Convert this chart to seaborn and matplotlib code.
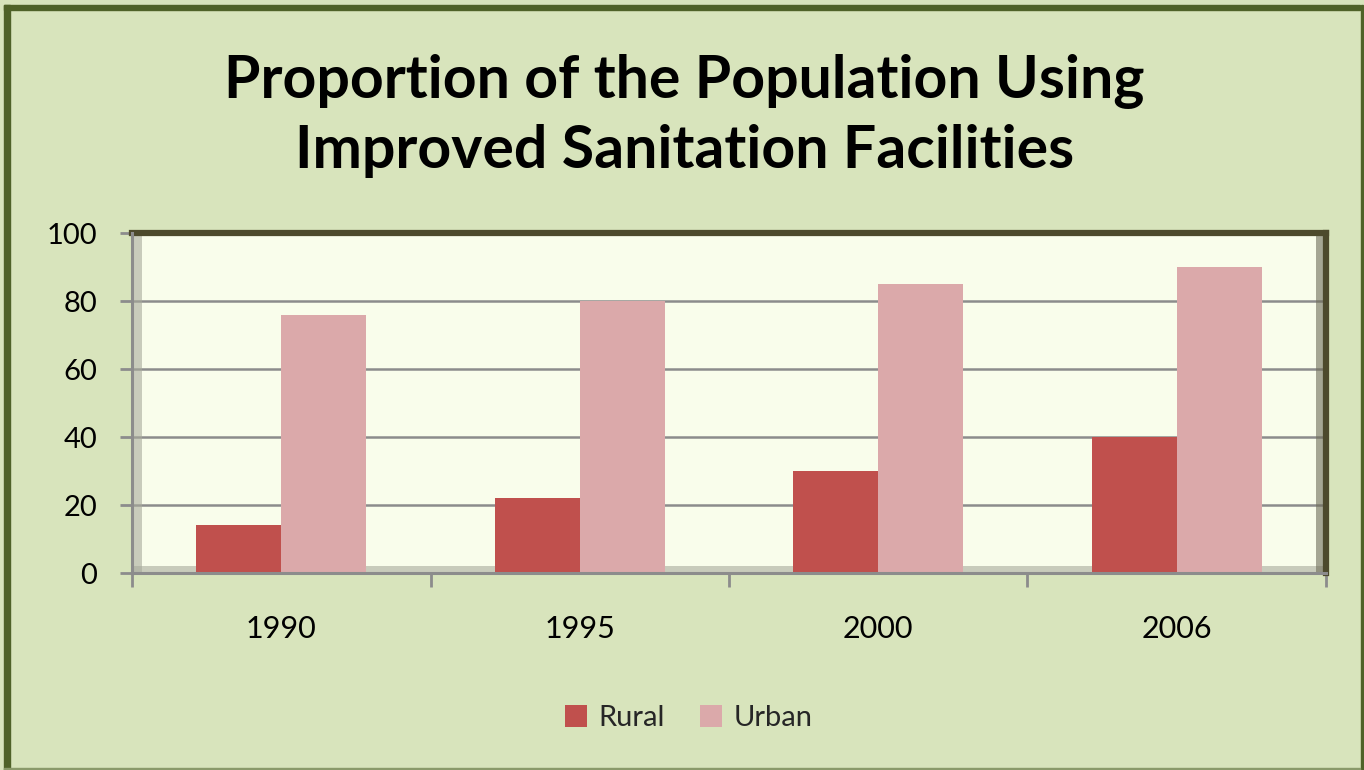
import matplotlib
matplotlib.use('Agg')
import matplotlib.pyplot as plt
from matplotlib.patches import Rectangle
import numpy as np
import pandas as pd
import seaborn as sns

# data
years = ["1990", "1995", "2000", "2006"]
rural = [14, 22, 30, 40]
urban = [76, 80, 85, 90]
series = ["Rural", "Urban"]
y_ticks = [0, 20, 40, 60, 80, 100]

df = pd.DataFrame({
    "year": years * 2,
    "value": rural + urban,
    "area": ["Rural"] * len(years) + ["Urban"] * len(years),
})

sns.set_theme(style="white")
plt.rcParams['font.family'] = ['Lato', 'DejaVu Sans']

bg = "#D8E4BC"
face = "#F9FDEB"
grid_c = "#8C8C8C"
dark = "#4D4A2C"
colors = {"Rural": "#C0504D", "Urban": "#DBA9AA"}

fig = plt.figure(figsize=(13.64, 7.70), dpi=100, facecolor=bg)

# outer frame (thick on top/left, thin on right/bottom)
fig.patches.append(Rectangle((0.003, 0.0), 0.0045, 0.993, transform=fig.transFigure,
                             color="#4F6228", zorder=5))
fig.patches.append(Rectangle((0.003, 0.9865), 0.994, 0.0065, transform=fig.transFigure,
                             color="#4F6228", zorder=5))
fig.patches.append(Rectangle((0.9975, 0.0), 0.0018, 0.993, transform=fig.transFigure,
                             color="#4F6228", zorder=5))
fig.patches.append(Rectangle((0.003, 0.0), 0.994, 0.003, transform=fig.transFigure,
                             color="#8A9A6A", zorder=5))

ax = fig.add_axes([0.0968, 0.2558, 0.8753, 0.4416])
ax.set_facecolor(face)

sns.barplot(data=df, x="year", y="value", hue="area", hue_order=series,
            palette=colors, width=0.57, gap=0, saturation=1, ax=ax,
            legend=True, zorder=3, edgecolor="none", linewidth=0)

ax.set_xlim(-0.5, len(years) - 0.5)
ax.set_ylim(0, 100)
ax.set_yticks(y_ticks)
ax.set_xlabel("")
ax.set_ylabel("")

# gridlines
for v in y_ticks[1:-1]:
    ax.axhline(v, color=grid_c, lw=1.8, zorder=1)

# inner shadow on left and bottom of the plot area
ax.add_patch(Rectangle((0, 0), 0.008, 1, transform=ax.transAxes,
                       color="#A8AA9C", alpha=0.6, zorder=2, lw=0))
ax.add_patch(Rectangle((0, 0), 1, 0.022, transform=ax.transAxes,
                       color="#A8AA9C", alpha=0.6, zorder=2, lw=0))
ax.add_patch(Rectangle((0.992, 0), 0.006, 1, transform=ax.transAxes,
                       color="#6E6C58", alpha=0.6, zorder=2, lw=0))

for side in ["top", "right"]:
    ax.spines[side].set_color(dark)
    ax.spines[side].set_linewidth(4.5)
for side in ["left", "bottom"]:
    ax.spines[side].set_color(grid_c)
    ax.spines[side].set_linewidth(2.2)
    ax.spines[side].set_zorder(6)

ax.tick_params(axis="y", which="major", length=9, width=2, color=grid_c,
               labelsize=21, pad=16, labelcolor="black", left=True)
ax.tick_params(axis="x", which="major", length=0, labelsize=22, pad=30,
               labelcolor="black")
ax.set_xticks(np.arange(-0.5, len(years), 1.0), minor=True)
ax.tick_params(axis="x", which="minor", length=10, width=2, color=grid_c,
               bottom=True)

leg = ax.legend(loc="center", ncol=2, frameon=False, fontsize=21, handlelength=0.75,
                handleheight=0.75, handletextpad=0.4, columnspacing=1.2)
leg.set_bbox_to_anchor((0.505, 1 - 718 / 770), transform=fig.transFigure)

fig.text(0.502, 1 - 116 / 770, "Proportion of the Population Using\nImproved Sanitation Facilities",
         ha="center", va="center", fontsize=42.5, fontweight="bold",
         linespacing=1.33, color="black")

fig.savefig("out.png", dpi=100, facecolor=bg)
